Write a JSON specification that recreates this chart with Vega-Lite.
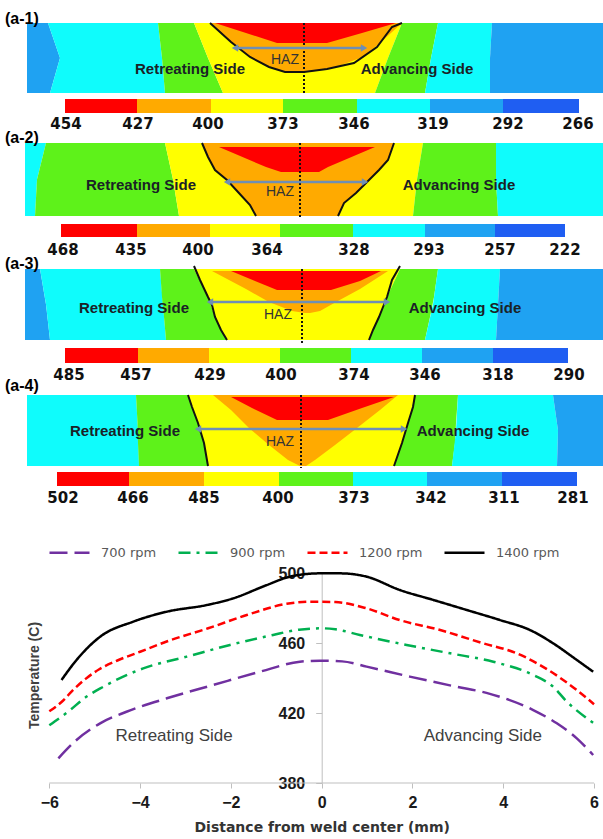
{
  "$schema": "https://vega.github.io/schema/vega-lite/v6.json",
  "padding": 0,
  "background": "white",
  "config": {"view": {"stroke": null}},
  "datasets": {
    "contour": [
      {"panel": "a-1", "kind": "band", "id": "a1b1", "lvl": 6, "y": 0, "x": -27.5, "x2": -25.4},
      {"panel": "a-1", "kind": "band", "id": "a1b1", "lvl": 6, "y": 3.5, "x": -27.5, "x2": -24.2},
      {"panel": "a-1", "kind": "band", "id": "a1b1", "lvl": 6, "y": 7.0, "x": -27.5, "x2": -25.2},
      {"panel": "a-1", "kind": "band", "id": "a1b2", "lvl": 5, "y": 0, "x": -25.4, "x2": -14.4},
      {"panel": "a-1", "kind": "band", "id": "a1b2", "lvl": 5, "y": 3.5, "x": -24.2, "x2": -14.0},
      {"panel": "a-1", "kind": "band", "id": "a1b2", "lvl": 5, "y": 7.0, "x": -25.2, "x2": -13.7},
      {"panel": "a-1", "kind": "band", "id": "a1b3", "lvl": 4, "y": 0, "x": -14.4, "x2": -10.8},
      {"panel": "a-1", "kind": "band", "id": "a1b3", "lvl": 4, "y": 3.5, "x": -14.0, "x2": -9.4},
      {"panel": "a-1", "kind": "band", "id": "a1b3", "lvl": 4, "y": 7.0, "x": -13.7, "x2": -7.9},
      {"panel": "a-1", "kind": "band", "id": "a1b4", "lvl": 3, "y": 0, "x": -10.8, "x2": 10.0},
      {"panel": "a-1", "kind": "band", "id": "a1b4", "lvl": 3, "y": 3.5, "x": -9.4, "x2": 8.6},
      {"panel": "a-1", "kind": "band", "id": "a1b4", "lvl": 3, "y": 7.0, "x": -7.9, "x2": 7.3},
      {"panel": "a-1", "kind": "band", "id": "a1b5", "lvl": 4, "y": 0, "x": 10.0, "x2": 13.6},
      {"panel": "a-1", "kind": "band", "id": "a1b5", "lvl": 4, "y": 3.5, "x": 8.6, "x2": 12.9},
      {"panel": "a-1", "kind": "band", "id": "a1b5", "lvl": 4, "y": 7.0, "x": 7.3, "x2": 12.3},
      {"panel": "a-1", "kind": "band", "id": "a1b6", "lvl": 5, "y": 0, "x": 13.6, "x2": 19.0},
      {"panel": "a-1", "kind": "band", "id": "a1b6", "lvl": 5, "y": 3.5, "x": 12.9, "x2": 18.8},
      {"panel": "a-1", "kind": "band", "id": "a1b6", "lvl": 5, "y": 7.0, "x": 12.3, "x2": 18.8},
      {"panel": "a-1", "kind": "band", "id": "a1b7", "lvl": 6, "y": 0, "x": 19.0, "x2": 30.1},
      {"panel": "a-1", "kind": "band", "id": "a1b7", "lvl": 6, "y": 3.5, "x": 18.8, "x2": 30.1},
      {"panel": "a-1", "kind": "band", "id": "a1b7", "lvl": 6, "y": 7.0, "x": 18.8, "x2": 30.1},

      {"panel": "a-2", "kind": "band", "id": "a2b1", "lvl": 5, "y": 0, "x": -27.7, "x2": -25.6},
      {"panel": "a-2", "kind": "band", "id": "a2b1", "lvl": 5, "y": 3.65, "x": -27.7, "x2": -26.5},
      {"panel": "a-2", "kind": "band", "id": "a2b1", "lvl": 5, "y": 7.3, "x": -27.7, "x2": -26.7},
      {"panel": "a-2", "kind": "band", "id": "a2b2", "lvl": 4, "y": 0, "x": -25.6, "x2": -13.7},
      {"panel": "a-2", "kind": "band", "id": "a2b2", "lvl": 4, "y": 3.65, "x": -26.5, "x2": -12.9},
      {"panel": "a-2", "kind": "band", "id": "a2b2", "lvl": 4, "y": 7.3, "x": -26.7, "x2": -12.3},
      {"panel": "a-2", "kind": "band", "id": "a2b3", "lvl": 3, "y": 0, "x": -13.7, "x2": 12.1},
      {"panel": "a-2", "kind": "band", "id": "a2b3", "lvl": 3, "y": 3.65, "x": -12.9, "x2": 11.5},
      {"panel": "a-2", "kind": "band", "id": "a2b3", "lvl": 3, "y": 7.3, "x": -12.3, "x2": 11.1},
      {"panel": "a-2", "kind": "band", "id": "a2b4", "lvl": 4, "y": 0, "x": 12.1, "x2": 19.4},
      {"panel": "a-2", "kind": "band", "id": "a2b4", "lvl": 4, "y": 3.65, "x": 11.5, "x2": 19.4},
      {"panel": "a-2", "kind": "band", "id": "a2b4", "lvl": 4, "y": 7.3, "x": 11.1, "x2": 19.6},
      {"panel": "a-2", "kind": "band", "id": "a2b5", "lvl": 5, "y": 0, "x": 19.4, "x2": 30.1},
      {"panel": "a-2", "kind": "band", "id": "a2b5", "lvl": 5, "y": 3.65, "x": 19.4, "x2": 30.1},
      {"panel": "a-2", "kind": "band", "id": "a2b5", "lvl": 5, "y": 7.3, "x": 19.6, "x2": 30.1},

      {"panel": "a-3", "kind": "band", "id": "a3b1", "lvl": 6, "y": 0, "x": -27.7, "x2": -26.2},
      {"panel": "a-3", "kind": "band", "id": "a3b1", "lvl": 6, "y": 3.55, "x": -27.7, "x2": -25.6},
      {"panel": "a-3", "kind": "band", "id": "a3b1", "lvl": 6, "y": 7.1, "x": -27.7, "x2": -25.2},
      {"panel": "a-3", "kind": "band", "id": "a3b2", "lvl": 5, "y": 0, "x": -26.2, "x2": -14.2},
      {"panel": "a-3", "kind": "band", "id": "a3b2", "lvl": 5, "y": 3.55, "x": -25.6, "x2": -13.9},
      {"panel": "a-3", "kind": "band", "id": "a3b2", "lvl": 5, "y": 7.1, "x": -25.2, "x2": -13.6},
      {"panel": "a-3", "kind": "band", "id": "a3b3", "lvl": 4, "y": 0, "x": -14.2, "x2": -10.8},
      {"panel": "a-3", "kind": "band", "id": "a3b3", "lvl": 4, "y": 2.8, "x": -14.0, "x2": -9.4},
      {"panel": "a-3", "kind": "band", "id": "a3b3", "lvl": 4, "y": 4.8, "x": -13.8, "x2": -8.7},
      {"panel": "a-3", "kind": "band", "id": "a3b3", "lvl": 4, "y": 7.1, "x": -13.6, "x2": -7.5},
      {"panel": "a-3", "kind": "band", "id": "a3b4", "lvl": 3, "y": 0, "x": -10.8, "x2": 9.8},
      {"panel": "a-3", "kind": "band", "id": "a3b4", "lvl": 3, "y": 2.8, "x": -9.4, "x2": 8.5},
      {"panel": "a-3", "kind": "band", "id": "a3b4", "lvl": 3, "y": 4.8, "x": -8.7, "x2": 7.7},
      {"panel": "a-3", "kind": "band", "id": "a3b4", "lvl": 3, "y": 7.1, "x": -7.5, "x2": 6.7},
      {"panel": "a-3", "kind": "band", "id": "a3b5", "lvl": 4, "y": 0, "x": 9.8, "x2": 13.6},
      {"panel": "a-3", "kind": "band", "id": "a3b5", "lvl": 4, "y": 2.8, "x": 8.5, "x2": 13.2},
      {"panel": "a-3", "kind": "band", "id": "a3b5", "lvl": 4, "y": 4.8, "x": 7.7, "x2": 12.8},
      {"panel": "a-3", "kind": "band", "id": "a3b5", "lvl": 4, "y": 7.1, "x": 6.7, "x2": 12.3},
      {"panel": "a-3", "kind": "band", "id": "a3b6", "lvl": 5, "y": 0, "x": 13.6, "x2": 19.8},
      {"panel": "a-3", "kind": "band", "id": "a3b6", "lvl": 5, "y": 3.55, "x": 13.1, "x2": 19.6},
      {"panel": "a-3", "kind": "band", "id": "a3b6", "lvl": 5, "y": 7.1, "x": 12.3, "x2": 19.4},
      {"panel": "a-3", "kind": "band", "id": "a3b7", "lvl": 6, "y": 0, "x": 19.8, "x2": 30.1},
      {"panel": "a-3", "kind": "band", "id": "a3b7", "lvl": 6, "y": 3.55, "x": 19.6, "x2": 30.1},
      {"panel": "a-3", "kind": "band", "id": "a3b7", "lvl": 6, "y": 7.1, "x": 19.4, "x2": 30.1},

      {"panel": "a-4", "kind": "band", "id": "a4b1", "lvl": 5, "y": 0, "x": -27.5, "x2": -16.6},
      {"panel": "a-4", "kind": "band", "id": "a4b1", "lvl": 5, "y": 3.55, "x": -27.5, "x2": -16.4},
      {"panel": "a-4", "kind": "band", "id": "a4b1", "lvl": 5, "y": 7.1, "x": -27.5, "x2": -16.3},
      {"panel": "a-4", "kind": "band", "id": "a4b2", "lvl": 4, "y": 0, "x": -16.6, "x2": -11.4},
      {"panel": "a-4", "kind": "band", "id": "a4b2", "lvl": 4, "y": 2.8, "x": -16.45, "x2": -10.4},
      {"panel": "a-4", "kind": "band", "id": "a4b2", "lvl": 4, "y": 4.8, "x": -16.4, "x2": -9.8},
      {"panel": "a-4", "kind": "band", "id": "a4b2", "lvl": 4, "y": 7.1, "x": -16.3, "x2": -9.4},
      {"panel": "a-4", "kind": "band", "id": "a4b3", "lvl": 3, "y": 0, "x": -11.4, "x2": 11.3},
      {"panel": "a-4", "kind": "band", "id": "a4b3", "lvl": 3, "y": 2.8, "x": -10.4, "x2": 10.6},
      {"panel": "a-4", "kind": "band", "id": "a4b3", "lvl": 3, "y": 4.8, "x": -9.8, "x2": 10.0},
      {"panel": "a-4", "kind": "band", "id": "a4b3", "lvl": 3, "y": 7.1, "x": -9.4, "x2": 9.2},
      {"panel": "a-4", "kind": "band", "id": "a4b4", "lvl": 4, "y": 0, "x": 11.3, "x2": 15.6},
      {"panel": "a-4", "kind": "band", "id": "a4b4", "lvl": 4, "y": 2.8, "x": 10.6, "x2": 15.4},
      {"panel": "a-4", "kind": "band", "id": "a4b4", "lvl": 4, "y": 4.8, "x": 10.0, "x2": 15.3},
      {"panel": "a-4", "kind": "band", "id": "a4b4", "lvl": 4, "y": 7.1, "x": 9.2, "x2": 15.0},
      {"panel": "a-4", "kind": "band", "id": "a4b5", "lvl": 5, "y": 0, "x": 15.6, "x2": 25.1},
      {"panel": "a-4", "kind": "band", "id": "a4b5", "lvl": 5, "y": 3.55, "x": 15.4, "x2": 25.6},
      {"panel": "a-4", "kind": "band", "id": "a4b5", "lvl": 5, "y": 7.1, "x": 15.0, "x2": 25.5},
      {"panel": "a-4", "kind": "band", "id": "a4b6", "lvl": 6, "y": 0, "x": 25.1, "x2": 30.1},
      {"panel": "a-4", "kind": "band", "id": "a4b6", "lvl": 6, "y": 3.55, "x": 25.6, "x2": 30.1},
      {"panel": "a-4", "kind": "band", "id": "a4b6", "lvl": 6, "y": 7.1, "x": 25.5, "x2": 30.1},

      {"panel": "a-1", "kind": "haz", "id": "a1o", "lvl": 2, "y": 0, "x": -9.2, "x2": 10.0},
      {"panel": "a-1", "kind": "haz", "id": "a1o", "lvl": 2, "y": 1.9, "x": -7.1, "x2": 7.9},
      {"panel": "a-1", "kind": "haz", "id": "a1o", "lvl": 2, "y": 3.4, "x": -5.2, "x2": 6.1},
      {"panel": "a-1", "kind": "haz", "id": "a1o", "lvl": 2, "y": 4.4, "x": -3.3, "x2": 3.4},
      {"panel": "a-1", "kind": "haz", "id": "a1o", "lvl": 2, "y": 4.9, "x": -1.7, "x2": 0.8},
      {"panel": "a-1", "kind": "haz", "id": "a1r", "lvl": 1, "y": 0, "x": -8.7, "x2": 9.4},
      {"panel": "a-1", "kind": "haz", "id": "a1r", "lvl": 1, "y": 1.0, "x": -5.6, "x2": 6.0},
      {"panel": "a-1", "kind": "haz", "id": "a1r", "lvl": 1, "y": 2.0, "x": -2.5, "x2": 2.5},
      {"panel": "a-2", "kind": "haz", "id": "a2o", "lvl": 2, "y": 0, "x": -10.0, "x2": 9.2},
      {"panel": "a-2", "kind": "haz", "id": "a2o", "lvl": 2, "y": 1.5, "x": -9.35, "x2": 8.7},
      {"panel": "a-2", "kind": "haz", "id": "a2o", "lvl": 2, "y": 3.0, "x": -8.4, "x2": 7.4},
      {"panel": "a-2", "kind": "haz", "id": "a2o", "lvl": 2, "y": 4.5, "x": -6.7, "x2": 5.9},
      {"panel": "a-2", "kind": "haz", "id": "a2o", "lvl": 2, "y": 6.0, "x": -5.4, "x2": 4.2},
      {"panel": "a-2", "kind": "haz", "id": "a2o", "lvl": 2, "y": 7.3, "x": -4.6, "x2": 3.6},
      {"panel": "a-2", "kind": "haz", "id": "a2r", "lvl": 1, "y": 0.4, "x": -8.3, "x2": 7.3},
      {"panel": "a-2", "kind": "haz", "id": "a2r", "lvl": 1, "y": 2.4, "x": -3.6, "x2": 2.6},
      {"panel": "a-2", "kind": "haz", "id": "a2r", "lvl": 1, "y": 2.9, "x": -2.1, "x2": 1.7},
      {"panel": "a-3", "kind": "haz", "id": "a3o", "lvl": 2, "y": 0.2, "x": -9.0, "x2": 8.6},
      {"panel": "a-3", "kind": "haz", "id": "a3o", "lvl": 2, "y": 2.0, "x": -5.6, "x2": 5.8},
      {"panel": "a-3", "kind": "haz", "id": "a3o", "lvl": 2, "y": 3.3, "x": -3.3, "x2": 3.4},
      {"panel": "a-3", "kind": "haz", "id": "a3o", "lvl": 2, "y": 4.2, "x": -1.0, "x2": 1.8},
      {"panel": "a-3", "kind": "haz", "id": "a3o", "lvl": 2, "y": 4.4, "x": 0.3, "x2": 0.8},
      {"panel": "a-3", "kind": "haz", "id": "a3r", "lvl": 1, "y": 0.2, "x": -7.1, "x2": 7.9},
      {"panel": "a-3", "kind": "haz", "id": "a3r", "lvl": 1, "y": 1.2, "x": -4.7, "x2": 5.8},
      {"panel": "a-3", "kind": "haz", "id": "a3r", "lvl": 1, "y": 2.1, "x": -2.5, "x2": 2.9},
      {"panel": "a-4", "kind": "haz", "id": "a4o", "lvl": 2, "y": 0, "x": -8.9, "x2": 9.6},
      {"panel": "a-4", "kind": "haz", "id": "a4o", "lvl": 2, "y": 1.5, "x": -7.1, "x2": 7.8},
      {"panel": "a-4", "kind": "haz", "id": "a4o", "lvl": 2, "y": 3.3, "x": -5.3, "x2": 5.5},
      {"panel": "a-4", "kind": "haz", "id": "a4o", "lvl": 2, "y": 5.0, "x": -3.3, "x2": 3.3},
      {"panel": "a-4", "kind": "haz", "id": "a4o", "lvl": 2, "y": 6.5, "x": -1.4, "x2": 1.3},
      {"panel": "a-4", "kind": "haz", "id": "a4o", "lvl": 2, "y": 7.1, "x": -0.2, "x2": 0.4},
      {"panel": "a-4", "kind": "haz", "id": "a4r", "lvl": 1, "y": 0.2, "x": -7.1, "x2": 9.2},
      {"panel": "a-4", "kind": "haz", "id": "a4r", "lvl": 1, "y": 1.3, "x": -5.0, "x2": 6.0},
      {"panel": "a-4", "kind": "haz", "id": "a4r", "lvl": 1, "y": 2.5, "x": -2.5, "x2": 2.6},

      {"panel": "a-1", "kind": "edge", "id": "a1e", "ord": 1, "x": -9.2, "y": 0},
      {"panel": "a-1", "kind": "edge", "id": "a1e", "ord": 2, "x": -7.1, "y": 1.9},
      {"panel": "a-1", "kind": "edge", "id": "a1e", "ord": 3, "x": -5.2, "y": 3.4},
      {"panel": "a-1", "kind": "edge", "id": "a1e", "ord": 4, "x": -3.3, "y": 4.4},
      {"panel": "a-1", "kind": "edge", "id": "a1e", "ord": 5, "x": -1.7, "y": 4.9},
      {"panel": "a-1", "kind": "edge", "id": "a1e", "ord": 6, "x": 0.2, "y": 4.9},
      {"panel": "a-1", "kind": "edge", "id": "a1e", "ord": 7, "x": 2.5, "y": 4.6},
      {"panel": "a-1", "kind": "edge", "id": "a1e", "ord": 8, "x": 5.2, "y": 4.0},
      {"panel": "a-1", "kind": "edge", "id": "a1e", "ord": 9, "x": 7.5, "y": 2.4},
      {"panel": "a-1", "kind": "edge", "id": "a1e", "ord": 10, "x": 9.0, "y": 0.4},
      {"panel": "a-1", "kind": "edge", "id": "a1e", "ord": 11, "x": 10.0, "y": 0},
      {"panel": "a-2", "kind": "edge", "id": "a2l", "ord": 1, "x": -10.0, "y": 0},
      {"panel": "a-2", "kind": "edge", "id": "a2l", "ord": 2, "x": -9.4, "y": 1.4},
      {"panel": "a-2", "kind": "edge", "id": "a2l", "ord": 3, "x": -8.7, "y": 2.7},
      {"panel": "a-2", "kind": "edge", "id": "a2l", "ord": 4, "x": -7.5, "y": 3.7},
      {"panel": "a-2", "kind": "edge", "id": "a2l", "ord": 5, "x": -6.4, "y": 4.9},
      {"panel": "a-2", "kind": "edge", "id": "a2l", "ord": 6, "x": -5.2, "y": 6.2},
      {"panel": "a-2", "kind": "edge", "id": "a2l", "ord": 7, "x": -4.6, "y": 7.3},
      {"panel": "a-2", "kind": "edge", "id": "a2r", "ord": 1, "x": 9.2, "y": 0},
      {"panel": "a-2", "kind": "edge", "id": "a2r", "ord": 2, "x": 8.6, "y": 1.7},
      {"panel": "a-2", "kind": "edge", "id": "a2r", "ord": 3, "x": 7.7, "y": 2.7},
      {"panel": "a-2", "kind": "edge", "id": "a2r", "ord": 4, "x": 6.5, "y": 3.9},
      {"panel": "a-2", "kind": "edge", "id": "a2r", "ord": 5, "x": 5.4, "y": 5.0},
      {"panel": "a-2", "kind": "edge", "id": "a2r", "ord": 6, "x": 4.2, "y": 6.0},
      {"panel": "a-2", "kind": "edge", "id": "a2r", "ord": 7, "x": 3.6, "y": 7.3},
      {"panel": "a-3", "kind": "edge", "id": "a3l", "ord": 1, "x": -10.8, "y": -0.3},
      {"panel": "a-3", "kind": "edge", "id": "a3l", "ord": 2, "x": -10.2, "y": 1.1},
      {"panel": "a-3", "kind": "edge", "id": "a3l", "ord": 3, "x": -9.4, "y": 2.8},
      {"panel": "a-3", "kind": "edge", "id": "a3l", "ord": 4, "x": -9.0, "y": 3.6},
      {"panel": "a-3", "kind": "edge", "id": "a3l", "ord": 5, "x": -8.7, "y": 4.8},
      {"panel": "a-3", "kind": "edge", "id": "a3l", "ord": 6, "x": -8.1, "y": 6.1},
      {"panel": "a-3", "kind": "edge", "id": "a3l", "ord": 7, "x": -7.5, "y": 7.1},
      {"panel": "a-3", "kind": "edge", "id": "a3r", "ord": 1, "x": 9.8, "y": -0.3},
      {"panel": "a-3", "kind": "edge", "id": "a3r", "ord": 2, "x": 9.0, "y": 1.1},
      {"panel": "a-3", "kind": "edge", "id": "a3r", "ord": 3, "x": 8.5, "y": 2.8},
      {"panel": "a-3", "kind": "edge", "id": "a3r", "ord": 4, "x": 8.1, "y": 3.8},
      {"panel": "a-3", "kind": "edge", "id": "a3r", "ord": 5, "x": 7.7, "y": 4.8},
      {"panel": "a-3", "kind": "edge", "id": "a3r", "ord": 6, "x": 7.1, "y": 6.1},
      {"panel": "a-3", "kind": "edge", "id": "a3r", "ord": 7, "x": 6.7, "y": 7.1},
      {"panel": "a-4", "kind": "edge", "id": "a4l", "ord": 1, "x": -11.4, "y": 0},
      {"panel": "a-4", "kind": "edge", "id": "a4l", "ord": 2, "x": -11.0, "y": 1.2},
      {"panel": "a-4", "kind": "edge", "id": "a4l", "ord": 3, "x": -10.4, "y": 2.8},
      {"panel": "a-4", "kind": "edge", "id": "a4l", "ord": 4, "x": -9.8, "y": 4.8},
      {"panel": "a-4", "kind": "edge", "id": "a4l", "ord": 5, "x": -9.4, "y": 7.1},
      {"panel": "a-4", "kind": "edge", "id": "a4r", "ord": 1, "x": 11.3, "y": 0},
      {"panel": "a-4", "kind": "edge", "id": "a4r", "ord": 2, "x": 11.1, "y": 1.2},
      {"panel": "a-4", "kind": "edge", "id": "a4r", "ord": 3, "x": 10.6, "y": 2.8},
      {"panel": "a-4", "kind": "edge", "id": "a4r", "ord": 4, "x": 10.0, "y": 4.8},
      {"panel": "a-4", "kind": "edge", "id": "a4r", "ord": 5, "x": 9.2, "y": 7.1},

      {"panel": "a-1", "kind": "center", "x": 0.2, "y": 0, "y2": 7.2},
      {"panel": "a-2", "kind": "center", "x": -0.2, "y": 0, "y2": 7.4},
      {"panel": "a-3", "kind": "center", "x": 0.0, "y": 0, "y2": 7.6},
      {"panel": "a-4", "kind": "center", "x": -0.1, "y": 0, "y2": 7.3},

      {"panel": "a-1", "kind": "arrow", "x": -6.7, "x2": 6.2, "y": 2.5},
      {"panel": "a-2", "kind": "arrow", "x": -7.5, "x2": 6.3, "y": 3.9},
      {"panel": "a-3", "kind": "arrow", "x": -9.2, "x2": 8.5, "y": 3.3},
      {"panel": "a-4", "kind": "arrow", "x": -10.4, "x2": 10.2, "y": 3.4},

      {"panel": "a-1", "kind": "cbar", "lvl": 1, "x": -23.7, "x2": -16.5, "y": 7.6, "y2": 9.0},
      {"panel": "a-1", "kind": "cbar", "lvl": 2, "x": -16.5, "x2": -9.1, "y": 7.6, "y2": 9.0},
      {"panel": "a-1", "kind": "cbar", "lvl": 3, "x": -9.1, "x2": -1.9, "y": 7.6, "y2": 9.0},
      {"panel": "a-1", "kind": "cbar", "lvl": 4, "x": -1.9, "x2": 5.5, "y": 7.6, "y2": 9.0},
      {"panel": "a-1", "kind": "cbar", "lvl": 5, "x": 5.5, "x2": 12.8, "y": 7.6, "y2": 9.0},
      {"panel": "a-1", "kind": "cbar", "lvl": 6, "x": 12.8, "x2": 20.1, "y": 7.6, "y2": 9.0},
      {"panel": "a-1", "kind": "cbar", "lvl": 7, "x": 20.1, "x2": 27.7, "y": 7.6, "y2": 9.0},
      {"panel": "a-2", "kind": "cbar", "lvl": 1, "x": -24.1, "x2": -16.5, "y": 8.1, "y2": 9.4},
      {"panel": "a-2", "kind": "cbar", "lvl": 2, "x": -16.5, "x2": -9.2, "y": 8.1, "y2": 9.4},
      {"panel": "a-2", "kind": "cbar", "lvl": 3, "x": -9.2, "x2": -2.2, "y": 8.1, "y2": 9.4},
      {"panel": "a-2", "kind": "cbar", "lvl": 4, "x": -2.2, "x2": 5.1, "y": 8.1, "y2": 9.4},
      {"panel": "a-2", "kind": "cbar", "lvl": 5, "x": 5.1, "x2": 12.3, "y": 8.1, "y2": 9.4},
      {"panel": "a-2", "kind": "cbar", "lvl": 6, "x": 12.3, "x2": 19.3, "y": 8.1, "y2": 9.4},
      {"panel": "a-2", "kind": "cbar", "lvl": 7, "x": 19.3, "x2": 26.3, "y": 8.1, "y2": 9.4},
      {"panel": "a-3", "kind": "cbar", "lvl": 1, "x": -23.7, "x2": -16.4, "y": 7.9, "y2": 9.4},
      {"panel": "a-3", "kind": "cbar", "lvl": 2, "x": -16.4, "x2": -9.3, "y": 7.9, "y2": 9.4},
      {"panel": "a-3", "kind": "cbar", "lvl": 3, "x": -9.3, "x2": -2.2, "y": 7.9, "y2": 9.4},
      {"panel": "a-3", "kind": "cbar", "lvl": 4, "x": -2.2, "x2": 4.9, "y": 7.9, "y2": 9.4},
      {"panel": "a-3", "kind": "cbar", "lvl": 5, "x": 4.9, "x2": 12.0, "y": 7.9, "y2": 9.4},
      {"panel": "a-3", "kind": "cbar", "lvl": 6, "x": 12.0, "x2": 19.1, "y": 7.9, "y2": 9.4},
      {"panel": "a-3", "kind": "cbar", "lvl": 7, "x": 19.1, "x2": 26.6, "y": 7.9, "y2": 9.4},
      {"panel": "a-4", "kind": "cbar", "lvl": 1, "x": -24.5, "x2": -17.3, "y": 7.7, "y2": 9.1},
      {"panel": "a-4", "kind": "cbar", "lvl": 2, "x": -17.3, "x2": -9.8, "y": 7.7, "y2": 9.1},
      {"panel": "a-4", "kind": "cbar", "lvl": 3, "x": -9.8, "x2": -2.3, "y": 7.7, "y2": 9.1},
      {"panel": "a-4", "kind": "cbar", "lvl": 4, "x": -2.3, "x2": 5.1, "y": 7.7, "y2": 9.1},
      {"panel": "a-4", "kind": "cbar", "lvl": 5, "x": 5.1, "x2": 12.5, "y": 7.7, "y2": 9.1},
      {"panel": "a-4", "kind": "cbar", "lvl": 6, "x": 12.5, "x2": 20.0, "y": 7.7, "y2": 9.1},
      {"panel": "a-4", "kind": "cbar", "lvl": 7, "x": 20.0, "x2": 27.5, "y": 7.7, "y2": 9.1},

      {"panel": "a-1", "kind": "clab", "x": -23.6, "y": 10.1, "label": "454"},
      {"panel": "a-1", "kind": "clab", "x": -16.4, "y": 10.1, "label": "427"},
      {"panel": "a-1", "kind": "clab", "x": -9.4, "y": 10.1, "label": "400"},
      {"panel": "a-1", "kind": "clab", "x": -1.9, "y": 10.1, "label": "373"},
      {"panel": "a-1", "kind": "clab", "x": 5.2, "y": 10.1, "label": "346"},
      {"panel": "a-1", "kind": "clab", "x": 13.1, "y": 10.1, "label": "319"},
      {"panel": "a-1", "kind": "clab", "x": 20.6, "y": 10.1, "label": "292"},
      {"panel": "a-1", "kind": "clab", "x": 27.6, "y": 10.1, "label": "266"},
      {"panel": "a-2", "kind": "clab", "x": -23.9, "y": 10.7, "label": "468"},
      {"panel": "a-2", "kind": "clab", "x": -17.1, "y": 10.7, "label": "435"},
      {"panel": "a-2", "kind": "clab", "x": -10.4, "y": 10.7, "label": "400"},
      {"panel": "a-2", "kind": "clab", "x": -3.5, "y": 10.7, "label": "364"},
      {"panel": "a-2", "kind": "clab", "x": 5.2, "y": 10.7, "label": "328"},
      {"panel": "a-2", "kind": "clab", "x": 12.7, "y": 10.7, "label": "293"},
      {"panel": "a-2", "kind": "clab", "x": 19.8, "y": 10.7, "label": "257"},
      {"panel": "a-2", "kind": "clab", "x": 26.3, "y": 10.7, "label": "222"},
      {"panel": "a-3", "kind": "clab", "x": -23.3, "y": 10.6, "label": "485"},
      {"panel": "a-3", "kind": "clab", "x": -16.6, "y": 10.6, "label": "457"},
      {"panel": "a-3", "kind": "clab", "x": -9.2, "y": 10.6, "label": "429"},
      {"panel": "a-3", "kind": "clab", "x": -2.1, "y": 10.6, "label": "400"},
      {"panel": "a-3", "kind": "clab", "x": 5.2, "y": 10.6, "label": "374"},
      {"panel": "a-3", "kind": "clab", "x": 12.3, "y": 10.6, "label": "346"},
      {"panel": "a-3", "kind": "clab", "x": 19.6, "y": 10.6, "label": "318"},
      {"panel": "a-3", "kind": "clab", "x": 26.7, "y": 10.6, "label": "290"},
      {"panel": "a-4", "kind": "clab", "x": -23.9, "y": 10.3, "label": "502"},
      {"panel": "a-4", "kind": "clab", "x": -16.9, "y": 10.3, "label": "466"},
      {"panel": "a-4", "kind": "clab", "x": -9.8, "y": 10.3, "label": "485"},
      {"panel": "a-4", "kind": "clab", "x": -2.4, "y": 10.3, "label": "400"},
      {"panel": "a-4", "kind": "clab", "x": 5.2, "y": 10.3, "label": "373"},
      {"panel": "a-4", "kind": "clab", "x": 12.9, "y": 10.3, "label": "342"},
      {"panel": "a-4", "kind": "clab", "x": 20.2, "y": 10.3, "label": "311"},
      {"panel": "a-4", "kind": "clab", "x": 27.1, "y": 10.3, "label": "281"},

      {"panel": "a-1", "kind": "side", "x": -11.2, "y": 4.6, "label": "Retreating Side"},
      {"panel": "a-1", "kind": "side", "x": 11.5, "y": 4.6, "label": "Advancing Side"},
      {"panel": "a-2", "kind": "side", "x": -16.1, "y": 4.2, "label": "Retreating Side"},
      {"panel": "a-2", "kind": "side", "x": 15.7, "y": 4.2, "label": "Advancing Side"},
      {"panel": "a-3", "kind": "side", "x": -16.8, "y": 3.9, "label": "Retreating Side"},
      {"panel": "a-3", "kind": "side", "x": 16.3, "y": 3.9, "label": "Advancing Side"},
      {"panel": "a-4", "kind": "side", "x": -17.7, "y": 3.6, "label": "Retreating Side"},
      {"panel": "a-4", "kind": "side", "x": 17.1, "y": 3.6, "label": "Advancing Side"},
      {"panel": "a-1", "kind": "haztxt", "x": -1.7, "y": 3.7, "label": "HAZ"},
      {"panel": "a-2", "kind": "haztxt", "x": -2.2, "y": 4.9, "label": "HAZ"},
      {"panel": "a-3", "kind": "haztxt", "x": -2.4, "y": 4.6, "label": "HAZ"},
      {"panel": "a-4", "kind": "haztxt", "x": -2.2, "y": 4.7, "label": "HAZ"},
      {"panel": "a-1", "kind": "plabel", "x": -29.7, "y": -0.4, "label": "(a-1)"},
      {"panel": "a-2", "kind": "plabel", "x": -29.7, "y": -0.5, "label": "(a-2)"},
      {"panel": "a-3", "kind": "plabel", "x": -29.7, "y": -0.5, "label": "(a-3)"},
      {"panel": "a-4", "kind": "plabel", "x": -29.7, "y": -0.9, "label": "(a-4)"}
    ],
    "temps": [
      {"series": "1400 rpm", "dist": -5.73, "temp": 438.9},
      {"series": "1400 rpm", "dist": -5.40, "temp": 450.3},
      {"series": "1400 rpm", "dist": -4.88, "temp": 463.6},
      {"series": "1400 rpm", "dist": -4.15, "temp": 472.2},
      {"series": "1400 rpm", "dist": -3.41, "temp": 477.9},
      {"series": "1400 rpm", "dist": -2.53, "temp": 481.7},
      {"series": "1400 rpm", "dist": -1.95, "temp": 485.5},
      {"series": "1400 rpm", "dist": -1.21, "temp": 493.1},
      {"series": "1400 rpm", "dist": -0.70, "temp": 497.9},
      {"series": "1400 rpm", "dist": -0.04, "temp": 499.8},
      {"series": "1400 rpm", "dist": 0.40, "temp": 499.8},
      {"series": "1400 rpm", "dist": 0.99, "temp": 497.9},
      {"series": "1400 rpm", "dist": 1.72, "temp": 490.3},
      {"series": "1400 rpm", "dist": 2.46, "temp": 484.6},
      {"series": "1400 rpm", "dist": 3.19, "temp": 478.9},
      {"series": "1400 rpm", "dist": 3.93, "temp": 473.1},
      {"series": "1400 rpm", "dist": 4.59, "temp": 467.4},
      {"series": "1400 rpm", "dist": 5.10, "temp": 459.8},
      {"series": "1400 rpm", "dist": 5.62, "temp": 450.3},
      {"series": "1400 rpm", "dist": 5.98, "temp": 443.6},
      {"series": "1200 rpm", "dist": -6.0, "temp": 421.0},
      {"series": "1200 rpm", "dist": -5.7, "temp": 427.0},
      {"series": "1200 rpm", "dist": -5.5, "temp": 432.5},
      {"series": "1200 rpm", "dist": -5.2, "temp": 439.5},
      {"series": "1200 rpm", "dist": -4.9, "temp": 445.0},
      {"series": "1200 rpm", "dist": -4.5, "temp": 450.0},
      {"series": "1200 rpm", "dist": -4.0, "temp": 455.0},
      {"series": "1200 rpm", "dist": -3.4, "temp": 461.0},
      {"series": "1200 rpm", "dist": -2.5, "temp": 468.4},
      {"series": "1200 rpm", "dist": -1.65, "temp": 476.0},
      {"series": "1200 rpm", "dist": -0.77, "temp": 482.4},
      {"series": "1200 rpm", "dist": -0.2, "temp": 483.6},
      {"series": "1200 rpm", "dist": 0.3, "temp": 483.4},
      {"series": "1200 rpm", "dist": 0.99, "temp": 479.8},
      {"series": "1200 rpm", "dist": 1.72, "temp": 473.1},
      {"series": "1200 rpm", "dist": 2.61, "temp": 467.4},
      {"series": "1200 rpm", "dist": 3.56, "temp": 459.8},
      {"series": "1200 rpm", "dist": 4.30, "temp": 454.1},
      {"series": "1200 rpm", "dist": 4.81, "temp": 447.4},
      {"series": "1200 rpm", "dist": 5.32, "temp": 438.9},
      {"series": "1200 rpm", "dist": 5.62, "temp": 433.1},
      {"series": "1200 rpm", "dist": 6.0, "temp": 425.0},
      {"series": "900 rpm", "dist": -6.0, "temp": 413.0},
      {"series": "900 rpm", "dist": -5.54, "temp": 421.7},
      {"series": "900 rpm", "dist": -5.25, "temp": 428.0},
      {"series": "900 rpm", "dist": -4.81, "temp": 435.0},
      {"series": "900 rpm", "dist": -3.93, "temp": 445.5},
      {"series": "900 rpm", "dist": -2.97, "temp": 452.2},
      {"series": "900 rpm", "dist": -2.02, "temp": 458.9},
      {"series": "900 rpm", "dist": -1.07, "temp": 464.6},
      {"series": "900 rpm", "dist": -0.5, "temp": 467.6},
      {"series": "900 rpm", "dist": 0.0, "temp": 468.4},
      {"series": "900 rpm", "dist": 0.3, "temp": 467.8},
      {"series": "900 rpm", "dist": 0.84, "temp": 464.6},
      {"series": "900 rpm", "dist": 1.87, "temp": 458.9},
      {"series": "900 rpm", "dist": 2.83, "temp": 454.1},
      {"series": "900 rpm", "dist": 3.78, "temp": 449.3},
      {"series": "900 rpm", "dist": 4.66, "temp": 441.7},
      {"series": "900 rpm", "dist": 5.10, "temp": 435.0},
      {"series": "900 rpm", "dist": 5.40, "temp": 426.5},
      {"series": "900 rpm", "dist": 5.84, "temp": 417.0},
      {"series": "900 rpm", "dist": 6.0, "temp": 414.0},
      {"series": "700 rpm", "dist": -5.80, "temp": 394.1},
      {"series": "700 rpm", "dist": -5.40, "temp": 404.6},
      {"series": "700 rpm", "dist": -4.88, "temp": 414.1},
      {"series": "700 rpm", "dist": -4.30, "temp": 420.7},
      {"series": "700 rpm", "dist": -3.41, "temp": 428.4},
      {"series": "700 rpm", "dist": -2.39, "temp": 436.0},
      {"series": "700 rpm", "dist": -1.36, "temp": 443.6},
      {"series": "700 rpm", "dist": -0.48, "temp": 449.3},
      {"series": "700 rpm", "dist": -0.04, "temp": 449.9},
      {"series": "700 rpm", "dist": 0.45, "temp": 449.5},
      {"series": "700 rpm", "dist": 0.99, "temp": 446.5},
      {"series": "700 rpm", "dist": 1.94, "temp": 440.8},
      {"series": "700 rpm", "dist": 2.97, "temp": 435.0},
      {"series": "700 rpm", "dist": 3.63, "temp": 431.5},
      {"series": "700 rpm", "dist": 4.66, "temp": 421.7},
      {"series": "700 rpm", "dist": 5.18, "temp": 414.1},
      {"series": "700 rpm", "dist": 5.62, "temp": 405.5},
      {"series": "700 rpm", "dist": 5.98, "temp": 396.0}
    ]
  },
  "spacing": 0,
  "bounds": "flush",
  "resolve": {"scale": {"color": "independent", "strokeDash": "independent"}, "legend": {"color": "independent", "strokeDash": "independent"}},
  "vconcat": [
    {
      "width": 603, "height": 120,
      "data": {"name": "contour"},
      "transform": [{"filter": "datum.panel === 'a-1'"}],
      "encoding": {
        "x": {"field": "x", "type": "quantitative", "scale": {"domain": [-30.2, 30.1], "nice": false, "zero": false}, "axis": null, "stack": null},
        "y": {"field": "y", "type": "quantitative", "scale": {"domain": [-2.3, 9.7], "reverse": true, "nice": false, "zero": false}, "axis": null}
      },
      "layer": [
        {"transform": [{"filter": "datum.kind === 'band'"}], "mark": {"type": "area", "orient": "horizontal"},
         "encoding": {"x2": {"field": "x2"}, "detail": {"field": "id"}, "color": {"field": "lvl", "type": "nominal", "scale": {"domain": [1, 2, 3, 4, 5, 6, 7], "range": ["#ff0000", "#ffaa00", "#ffff00", "#5ef21a", "#0ffcfc", "#1fa2f2", "#1f5ef2"]}, "legend": null}}},
        {"transform": [{"filter": "datum.kind === 'haz' && datum.lvl === 2"}], "mark": {"type": "area", "orient": "horizontal", "color": "#ffaa00"},
         "encoding": {"x2": {"field": "x2"}, "detail": {"field": "id"}}},
        {"transform": [{"filter": "datum.kind === 'haz' && datum.lvl === 1"}], "mark": {"type": "area", "orient": "horizontal", "color": "#ff0000"},
         "encoding": {"x2": {"field": "x2"}, "detail": {"field": "id"}}},
        {"transform": [{"filter": "datum.kind === 'edge'"}], "mark": {"type": "line", "color": "#111111", "strokeWidth": 2},
         "encoding": {"detail": {"field": "id"}, "order": {"field": "ord", "type": "quantitative"}}},
        {"transform": [{"filter": "datum.kind === 'center'"}], "mark": {"type": "rule", "color": "#111111", "strokeWidth": 2, "strokeDash": [2, 2]},
         "encoding": {"y2": {"field": "y2"}}},
        {"transform": [{"filter": "datum.kind === 'arrow'"}], "mark": {"type": "rule", "color": "#6f8fb5", "strokeWidth": 2.5},
         "encoding": {"x2": {"field": "x2"}}},
        {"transform": [{"filter": "datum.kind === 'arrow'"}], "mark": {"type": "point", "shape": "triangle-left", "filled": true, "size": 55, "color": "#6f8fb5", "opacity": 1},
         "encoding": {}},
        {"transform": [{"filter": "datum.kind === 'arrow'"}], "mark": {"type": "point", "shape": "triangle-right", "filled": true, "size": 55, "color": "#6f8fb5", "opacity": 1},
         "encoding": {"x": {"field": "x2", "type": "quantitative", "scale": {"domain": [-30.2, 30.1], "nice": false, "zero": false}, "axis": null}}},
        {"transform": [{"filter": "datum.kind === 'cbar'"}], "mark": {"type": "rect"},
         "encoding": {"x2": {"field": "x2"}, "y2": {"field": "y2"}, "color": {"field": "lvl", "type": "nominal", "scale": {"domain": [1, 2, 3, 4, 5, 6, 7], "range": ["#ff0000", "#ffaa00", "#ffff00", "#5ef21a", "#0ffcfc", "#1fa2f2", "#1f5ef2"]}, "legend": null}}},
        {"transform": [{"filter": "datum.kind === 'clab'"}], "mark": {"type": "text", "font": "DejaVu Sans", "fontWeight": "bold", "fontSize": 15, "color": "#111111", "baseline": "middle"},
         "encoding": {"text": {"field": "label"}}},
        {"transform": [{"filter": "datum.kind === 'side'"}], "mark": {"type": "text", "font": "Liberation Sans", "fontWeight": "bold", "fontSize": 15, "color": "#1a2226", "baseline": "middle"},
         "encoding": {"text": {"field": "label"}}},
        {"transform": [{"filter": "datum.kind === 'haztxt'"}], "mark": {"type": "text", "font": "Liberation Sans", "fontSize": 14, "color": "#333333", "baseline": "middle"},
         "encoding": {"text": {"field": "label"}}},
        {"transform": [{"filter": "datum.kind === 'plabel'"}], "mark": {"type": "text", "font": "Liberation Sans", "fontWeight": "bold", "fontSize": 16, "color": "#000000", "baseline": "middle", "align": "left"},
         "encoding": {"text": {"field": "label"}}}
      ]
    },
    {
      "width": 603, "height": 126,
      "data": {"name": "contour"},
      "transform": [{"filter": "datum.panel === 'a-2'"}],
      "encoding": {
        "x": {"field": "x", "type": "quantitative", "scale": {"domain": [-30.2, 30.1], "nice": false, "zero": false}, "axis": null, "stack": null},
        "y": {"field": "y", "type": "quantitative", "scale": {"domain": [-2.3, 10.3], "reverse": true, "nice": false, "zero": false}, "axis": null}
      },
      "layer": [
        {"transform": [{"filter": "datum.kind === 'band'"}], "mark": {"type": "area", "orient": "horizontal"},
         "encoding": {"x2": {"field": "x2"}, "detail": {"field": "id"}, "color": {"field": "lvl", "type": "nominal", "scale": {"domain": [1, 2, 3, 4, 5, 6, 7], "range": ["#ff0000", "#ffaa00", "#ffff00", "#5ef21a", "#0ffcfc", "#1fa2f2", "#1f5ef2"]}, "legend": null}}},
        {"transform": [{"filter": "datum.kind === 'haz' && datum.lvl === 2"}], "mark": {"type": "area", "orient": "horizontal", "color": "#ffaa00"},
         "encoding": {"x2": {"field": "x2"}, "detail": {"field": "id"}}},
        {"transform": [{"filter": "datum.kind === 'haz' && datum.lvl === 1"}], "mark": {"type": "area", "orient": "horizontal", "color": "#ff0000"},
         "encoding": {"x2": {"field": "x2"}, "detail": {"field": "id"}}},
        {"transform": [{"filter": "datum.kind === 'edge'"}], "mark": {"type": "line", "color": "#111111", "strokeWidth": 2},
         "encoding": {"detail": {"field": "id"}, "order": {"field": "ord", "type": "quantitative"}}},
        {"transform": [{"filter": "datum.kind === 'center'"}], "mark": {"type": "rule", "color": "#111111", "strokeWidth": 2, "strokeDash": [2, 2]},
         "encoding": {"y2": {"field": "y2"}}},
        {"transform": [{"filter": "datum.kind === 'arrow'"}], "mark": {"type": "rule", "color": "#6f8fb5", "strokeWidth": 2.5},
         "encoding": {"x2": {"field": "x2"}}},
        {"transform": [{"filter": "datum.kind === 'arrow'"}], "mark": {"type": "point", "shape": "triangle-left", "filled": true, "size": 55, "color": "#6f8fb5", "opacity": 1},
         "encoding": {}},
        {"transform": [{"filter": "datum.kind === 'arrow'"}], "mark": {"type": "point", "shape": "triangle-right", "filled": true, "size": 55, "color": "#6f8fb5", "opacity": 1},
         "encoding": {"x": {"field": "x2", "type": "quantitative", "scale": {"domain": [-30.2, 30.1], "nice": false, "zero": false}, "axis": null}}},
        {"transform": [{"filter": "datum.kind === 'cbar'"}], "mark": {"type": "rect"},
         "encoding": {"x2": {"field": "x2"}, "y2": {"field": "y2"}, "color": {"field": "lvl", "type": "nominal", "scale": {"domain": [1, 2, 3, 4, 5, 6, 7], "range": ["#ff0000", "#ffaa00", "#ffff00", "#5ef21a", "#0ffcfc", "#1fa2f2", "#1f5ef2"]}, "legend": null}}},
        {"transform": [{"filter": "datum.kind === 'clab'"}], "mark": {"type": "text", "font": "DejaVu Sans", "fontWeight": "bold", "fontSize": 15, "color": "#111111", "baseline": "middle"},
         "encoding": {"text": {"field": "label"}}},
        {"transform": [{"filter": "datum.kind === 'side'"}], "mark": {"type": "text", "font": "Liberation Sans", "fontWeight": "bold", "fontSize": 15, "color": "#1a2226", "baseline": "middle"},
         "encoding": {"text": {"field": "label"}}},
        {"transform": [{"filter": "datum.kind === 'haztxt'"}], "mark": {"type": "text", "font": "Liberation Sans", "fontSize": 14, "color": "#333333", "baseline": "middle"},
         "encoding": {"text": {"field": "label"}}},
        {"transform": [{"filter": "datum.kind === 'plabel'"}], "mark": {"type": "text", "font": "Liberation Sans", "fontWeight": "bold", "fontSize": 16, "color": "#000000", "baseline": "middle", "align": "left"},
         "encoding": {"text": {"field": "label"}}}
      ]
    },
    {
      "width": 603, "height": 126,
      "data": {"name": "contour"},
      "transform": [{"filter": "datum.panel === 'a-3'"}],
      "encoding": {
        "x": {"field": "x", "type": "quantitative", "scale": {"domain": [-30.2, 30.1], "nice": false, "zero": false}, "axis": null, "stack": null},
        "y": {"field": "y", "type": "quantitative", "scale": {"domain": [-2.3, 10.3], "reverse": true, "nice": false, "zero": false}, "axis": null}
      },
      "layer": [
        {"transform": [{"filter": "datum.kind === 'band'"}], "mark": {"type": "area", "orient": "horizontal"},
         "encoding": {"x2": {"field": "x2"}, "detail": {"field": "id"}, "color": {"field": "lvl", "type": "nominal", "scale": {"domain": [1, 2, 3, 4, 5, 6, 7], "range": ["#ff0000", "#ffaa00", "#ffff00", "#5ef21a", "#0ffcfc", "#1fa2f2", "#1f5ef2"]}, "legend": null}}},
        {"transform": [{"filter": "datum.kind === 'haz' && datum.lvl === 2"}], "mark": {"type": "area", "orient": "horizontal", "color": "#ffaa00"},
         "encoding": {"x2": {"field": "x2"}, "detail": {"field": "id"}}},
        {"transform": [{"filter": "datum.kind === 'haz' && datum.lvl === 1"}], "mark": {"type": "area", "orient": "horizontal", "color": "#ff0000"},
         "encoding": {"x2": {"field": "x2"}, "detail": {"field": "id"}}},
        {"transform": [{"filter": "datum.kind === 'edge'"}], "mark": {"type": "line", "color": "#111111", "strokeWidth": 2},
         "encoding": {"detail": {"field": "id"}, "order": {"field": "ord", "type": "quantitative"}}},
        {"transform": [{"filter": "datum.kind === 'center'"}], "mark": {"type": "rule", "color": "#111111", "strokeWidth": 2, "strokeDash": [2, 2]},
         "encoding": {"y2": {"field": "y2"}}},
        {"transform": [{"filter": "datum.kind === 'arrow'"}], "mark": {"type": "rule", "color": "#6f8fb5", "strokeWidth": 2.5},
         "encoding": {"x2": {"field": "x2"}}},
        {"transform": [{"filter": "datum.kind === 'arrow'"}], "mark": {"type": "point", "shape": "triangle-left", "filled": true, "size": 55, "color": "#6f8fb5", "opacity": 1},
         "encoding": {}},
        {"transform": [{"filter": "datum.kind === 'arrow'"}], "mark": {"type": "point", "shape": "triangle-right", "filled": true, "size": 55, "color": "#6f8fb5", "opacity": 1},
         "encoding": {"x": {"field": "x2", "type": "quantitative", "scale": {"domain": [-30.2, 30.1], "nice": false, "zero": false}, "axis": null}}},
        {"transform": [{"filter": "datum.kind === 'cbar'"}], "mark": {"type": "rect"},
         "encoding": {"x2": {"field": "x2"}, "y2": {"field": "y2"}, "color": {"field": "lvl", "type": "nominal", "scale": {"domain": [1, 2, 3, 4, 5, 6, 7], "range": ["#ff0000", "#ffaa00", "#ffff00", "#5ef21a", "#0ffcfc", "#1fa2f2", "#1f5ef2"]}, "legend": null}}},
        {"transform": [{"filter": "datum.kind === 'clab'"}], "mark": {"type": "text", "font": "DejaVu Sans", "fontWeight": "bold", "fontSize": 15, "color": "#111111", "baseline": "middle"},
         "encoding": {"text": {"field": "label"}}},
        {"transform": [{"filter": "datum.kind === 'side'"}], "mark": {"type": "text", "font": "Liberation Sans", "fontWeight": "bold", "fontSize": 15, "color": "#1a2226", "baseline": "middle"},
         "encoding": {"text": {"field": "label"}}},
        {"transform": [{"filter": "datum.kind === 'haztxt'"}], "mark": {"type": "text", "font": "Liberation Sans", "fontSize": 14, "color": "#333333", "baseline": "middle"},
         "encoding": {"text": {"field": "label"}}},
        {"transform": [{"filter": "datum.kind === 'plabel'"}], "mark": {"type": "text", "font": "Liberation Sans", "fontWeight": "bold", "fontSize": 16, "color": "#000000", "baseline": "middle", "align": "left"},
         "encoding": {"text": {"field": "label"}}}
      ]
    },
    {
      "width": 603, "height": 201,
      "data": {"name": "contour"},
      "transform": [{"filter": "datum.panel === 'a-4'"}],
      "encoding": {
        "x": {"field": "x", "type": "quantitative", "scale": {"domain": [-30.2, 30.1], "nice": false, "zero": false}, "axis": null, "stack": null},
        "y": {"field": "y", "type": "quantitative", "scale": {"domain": [-2.3, 17.8], "reverse": true, "nice": false, "zero": false}, "axis": null}
      },
      "layer": [
        {"transform": [{"filter": "datum.kind === 'band'"}], "mark": {"type": "area", "orient": "horizontal"},
         "encoding": {"x2": {"field": "x2"}, "detail": {"field": "id"}, "color": {"field": "lvl", "type": "nominal", "scale": {"domain": [1, 2, 3, 4, 5, 6, 7], "range": ["#ff0000", "#ffaa00", "#ffff00", "#5ef21a", "#0ffcfc", "#1fa2f2", "#1f5ef2"]}, "legend": null}}},
        {"transform": [{"filter": "datum.kind === 'haz' && datum.lvl === 2"}], "mark": {"type": "area", "orient": "horizontal", "color": "#ffaa00"},
         "encoding": {"x2": {"field": "x2"}, "detail": {"field": "id"}}},
        {"transform": [{"filter": "datum.kind === 'haz' && datum.lvl === 1"}], "mark": {"type": "area", "orient": "horizontal", "color": "#ff0000"},
         "encoding": {"x2": {"field": "x2"}, "detail": {"field": "id"}}},
        {"transform": [{"filter": "datum.kind === 'edge'"}], "mark": {"type": "line", "color": "#111111", "strokeWidth": 2},
         "encoding": {"detail": {"field": "id"}, "order": {"field": "ord", "type": "quantitative"}}},
        {"transform": [{"filter": "datum.kind === 'center'"}], "mark": {"type": "rule", "color": "#111111", "strokeWidth": 2, "strokeDash": [2, 2]},
         "encoding": {"y2": {"field": "y2"}}},
        {"transform": [{"filter": "datum.kind === 'arrow'"}], "mark": {"type": "rule", "color": "#6f8fb5", "strokeWidth": 2.5},
         "encoding": {"x2": {"field": "x2"}}},
        {"transform": [{"filter": "datum.kind === 'arrow'"}], "mark": {"type": "point", "shape": "triangle-left", "filled": true, "size": 55, "color": "#6f8fb5", "opacity": 1},
         "encoding": {}},
        {"transform": [{"filter": "datum.kind === 'arrow'"}], "mark": {"type": "point", "shape": "triangle-right", "filled": true, "size": 55, "color": "#6f8fb5", "opacity": 1},
         "encoding": {"x": {"field": "x2", "type": "quantitative", "scale": {"domain": [-30.2, 30.1], "nice": false, "zero": false}, "axis": null}}},
        {"transform": [{"filter": "datum.kind === 'cbar'"}], "mark": {"type": "rect"},
         "encoding": {"x2": {"field": "x2"}, "y2": {"field": "y2"}, "color": {"field": "lvl", "type": "nominal", "scale": {"domain": [1, 2, 3, 4, 5, 6, 7], "range": ["#ff0000", "#ffaa00", "#ffff00", "#5ef21a", "#0ffcfc", "#1fa2f2", "#1f5ef2"]}, "legend": null}}},
        {"transform": [{"filter": "datum.kind === 'clab'"}], "mark": {"type": "text", "font": "DejaVu Sans", "fontWeight": "bold", "fontSize": 15, "color": "#111111", "baseline": "middle"},
         "encoding": {"text": {"field": "label"}}},
        {"transform": [{"filter": "datum.kind === 'side'"}], "mark": {"type": "text", "font": "Liberation Sans", "fontWeight": "bold", "fontSize": 15, "color": "#1a2226", "baseline": "middle"},
         "encoding": {"text": {"field": "label"}}},
        {"transform": [{"filter": "datum.kind === 'haztxt'"}], "mark": {"type": "text", "font": "Liberation Sans", "fontSize": 14, "color": "#333333", "baseline": "middle"},
         "encoding": {"text": {"field": "label"}}},
        {"transform": [{"filter": "datum.kind === 'plabel'"}], "mark": {"type": "text", "font": "Liberation Sans", "fontWeight": "bold", "fontSize": 16, "color": "#000000", "baseline": "middle", "align": "left"},
         "encoding": {"text": {"field": "label"}}}
      ]
    },
    {
      "width": 603,
      "height": 210,
      "layer": [
        {
          "data": {"name": "temps"},
          "mark": {"type": "line", "strokeWidth": 2.5, "interpolate": "monotone"},
          "encoding": {
            "x": {"field": "dist", "type": "quantitative",
              "scale": {"domain": [-7.086, 6.197], "nice": false, "zero": false},
              "axis": {"values": [-6, -4, -2, 0, 2, 4, 6], "domain": false, "grid": false, "tickColor": "#bfbfbf", "tickSize": 5, "tickWidth": 1,
                "labelFont": "Liberation Sans", "labelFontWeight": "bold", "labelFontSize": 16, "labelColor": "#1a1a1a", "labelPadding": 6,
                "title": "Distance from weld center (mm)", "titleFont": "DejaVu Sans", "titleFontWeight": "bold", "titleFontSize": 14, "titleColor": "#333333",
                "titleX": 321.7, "titleY": 44, "titleBaseline": "middle", "titleAlign": "center"}},
            "y": {"field": "temp", "type": "quantitative",
              "scale": {"domain": [380, 500], "nice": false, "zero": false},
              "axis": {"values": [380, 420, 460, 500], "offset": -321.7, "grid": false, "domainColor": "#bfbfbf", "tickColor": "#bfbfbf", "tickSize": 6,
                "labelFont": "Liberation Sans", "labelFontWeight": "bold", "labelFontSize": 16, "labelColor": "#1a1a1a", "labelPadding": 11,
                "title": "Temperature (C)", "titleFont": "Liberation Sans", "titleFontWeight": "bold", "titleFontSize": 14, "titleColor": "#404040",
                "titleX": -287.7, "titleY": 102, "titleBaseline": "middle", "titleAlign": "center", "titleAngle": -90}},
            "color": {"field": "series", "type": "nominal",
              "scale": {"domain": ["700 rpm", "900 rpm", "1200 rpm", "1400 rpm"], "range": ["#7030a0", "#00b050", "#ff0000", "#000000"]},
              "legend": {"orient": "none", "legendX": 48, "legendY": -42, "direction": "horizontal", "title": null, "symbolType": "stroke", "symbolSize": 1600, "symbolStrokeWidth": 2.5, "labelFont": "DejaVu Sans", "labelFontSize": 13, "labelColor": "#595959", "labelOffset": 10, "columnPadding": 16}},
            "strokeDash": {"field": "series", "type": "nominal",
              "scale": {"domain": ["700 rpm", "900 rpm", "1200 rpm", "1400 rpm"], "range": [[18, 7], [12, 6, 3, 6], [8, 4], [1, 0]]},
              "legend": {"orient": "none", "legendX": 48, "legendY": -42, "direction": "horizontal", "title": null, "symbolType": "stroke", "symbolSize": 1600, "symbolStrokeWidth": 2.5, "labelFont": "DejaVu Sans", "labelFontSize": 13, "labelColor": "#595959", "labelOffset": 10, "columnPadding": 16}}
          }
        },
        {
          "data": {"values": [{"from": -6, "to": 6, "base": 380}]},
          "mark": {"type": "rule", "color": "#bfbfbf", "strokeWidth": 1},
          "encoding": {
            "x": {"field": "from", "type": "quantitative", "scale": {"domain": [-7.086, 6.197], "nice": false, "zero": false}},
            "x2": {"field": "to"},
            "y": {"field": "base", "type": "quantitative", "scale": {"domain": [380, 500], "nice": false, "zero": false}}
          }
        },
        {
          "data": {"values": [{"dist": -3.25, "temp": 406.9, "label": "Retreating Side"}, {"dist": 3.55, "temp": 406.9, "label": "Advancing Side"}]},
          "mark": {"type": "text", "font": "Liberation Sans", "fontSize": 17, "color": "#404040", "baseline": "middle", "align": "center"},
          "encoding": {
            "x": {"field": "dist", "type": "quantitative", "scale": {"domain": [-7.086, 6.197], "nice": false, "zero": false}},
            "y": {"field": "temp", "type": "quantitative", "scale": {"domain": [380, 500], "nice": false, "zero": false}},
            "text": {"field": "label"}
          }
        }
      ]
    }
  ]
}
